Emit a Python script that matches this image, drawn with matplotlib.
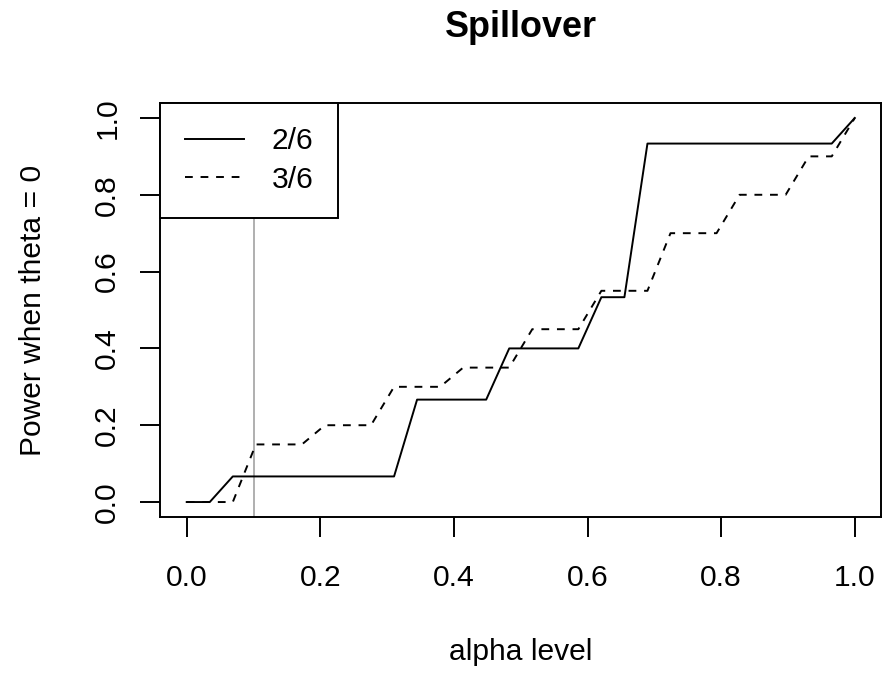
import matplotlib as mp
import matplotlib.pyplot as plot
import numpy as np

mp.rcParams["font.family"] = ["Liberation Sans", "DejaVu Sans"]

# alpha grid: 30 evenly spaced levels
alpha = np.linspace(0, 1, 30)
power_2of6 = [0, 0, 1/15, 1/15, 1/15, 1/15, 1/15, 1/15, 1/15, 1/15,
              4/15, 4/15, 4/15, 4/15, 0.4, 0.4, 0.4, 0.4, 8/15, 8/15,
              14/15, 14/15, 14/15, 14/15, 14/15, 14/15, 14/15, 14/15, 14/15, 1]
power_3of6 = [0, 0, 0, 0.15, 0.15, 0.15, 0.2, 0.2, 0.2, 0.3,
              0.3, 0.3, 0.35, 0.35, 0.35, 0.45, 0.45, 0.45, 0.55, 0.55,
              0.55, 0.7, 0.7, 0.7, 0.8, 0.8, 0.8, 0.9, 0.9, 1.0]
labels = ["2/6", "3/6"]
ref_alpha = 0.1
ticks = [0.0, 0.2, 0.4, 0.6, 0.8, 1.0]

fs = 21.6
lw = 1.4

fig = plot.figure(figsize=(8.82, 6.75), dpi=100)
ax = fig.add_axes([160/882, 1-517.4/675, 721.5/882, 414.8/675])

ax.axvline(ref_alpha, color="#A9A9A9", linewidth=1.3, zorder=1)
ax.plot(alpha, power_2of6, color="black", linewidth=lw, label=labels[0], zorder=3)
ax.plot(alpha, power_3of6, color="black", linewidth=lw, dashes=(4, 4), label=labels[1], zorder=3)

ax.set_xlim(-0.04, 1.04)
ax.set_ylim(-0.04, 1.04)
ax.set_xticks(ticks)
ax.set_yticks(ticks)
ax.set_xticklabels(["%.1f" % t for t in ticks], fontsize=fs)
ax.set_yticklabels(["%.1f" % t for t in ticks], fontsize=fs, rotation=90, va="center")
ax.tick_params(length=14.4, width=lw, direction="out")
ax.tick_params(axis="x", pad=19)
ax.tick_params(axis="y", pad=13.5)
for s in ax.spines.values():
    s.set_linewidth(lw)

ax.set_xlabel("alpha level", fontsize=fs, labelpad=33)
ax.set_ylabel("Power when theta = 0", fontsize=fs, labelpad=33.5)
fig.text(520.5/882, 1-37/675, "Spillover", fontsize=fs*1.2, fontweight="bold",
         ha="center", va="baseline")

leg = ax.legend(loc="upper left", borderaxespad=0, fancybox=False, framealpha=1,
                edgecolor="black", fontsize=fs, handlelength=1.97, handletextpad=0.93,
                borderpad=0.82, labelspacing=0.35)
leg.get_frame().set_linewidth(lw)
leg.set_zorder(5)

plot.savefig("out.png", dpi=100)
